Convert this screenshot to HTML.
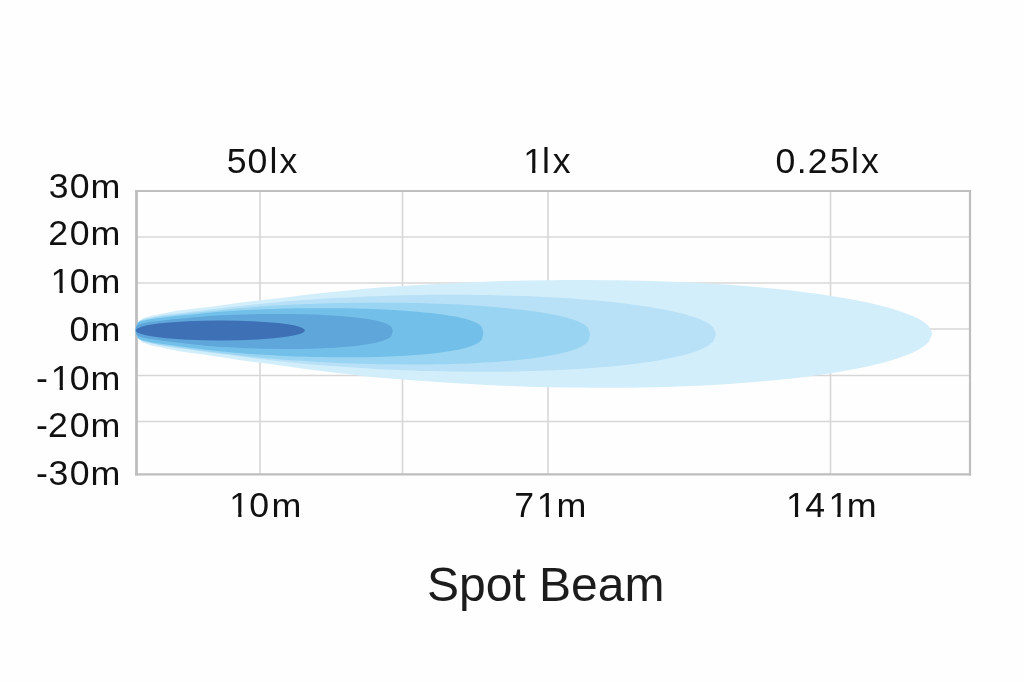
<!DOCTYPE html>
<html><head><meta charset="utf-8"><title>Spot Beam</title>
<style>
html,body{margin:0;padding:0;background:#fff;}
body{width:1024px;height:682px;overflow:hidden;}
svg{display:block;will-change:transform;}
text{font-family:"Liberation Sans",Arial,Helvetica,sans-serif;fill:#111;}
</style></head><body>
<svg width="1024" height="682" viewBox="0 0 1024 682">
<defs><clipPath id="c0"><path clip-rule="evenodd" d="M0,0H1024V682H0Z M51.65,289.15h7.87v6.05h-7.87Z M62.79,289.15h7.66v6.05h-7.66Z"/></clipPath><clipPath id="c1"><path clip-rule="evenodd" d="M0,0H1024V682H0Z M51.75,385.45h7.87v6.05h-7.87Z M62.89,385.45h7.66v6.05h-7.66Z"/></clipPath><clipPath id="c2"><path clip-rule="evenodd" d="M0,0H1024V682H0Z M524.25,168.75h7.87v6.05h-7.87Z M535.39,168.75h7.66v6.05h-7.66Z"/></clipPath><clipPath id="c3"><path clip-rule="evenodd" d="M0,0H1024V682H0Z M230.35,512.55h7.87v6.05h-7.87Z M241.49,512.55h7.66v6.05h-7.66Z"/></clipPath><clipPath id="c4"><path clip-rule="evenodd" d="M0,0H1024V682H0Z M537.85,512.55h7.87v6.05h-7.87Z M548.99,512.55h7.66v6.05h-7.66Z"/></clipPath><clipPath id="c5"><path clip-rule="evenodd" d="M0,0H1024V682H0Z M787.05,512.55h7.87v6.05h-7.87Z M798.19,512.55h7.66v6.05h-7.66Z M829.45,512.55h7.87v6.05h-7.87Z M840.59,512.55h7.66v6.05h-7.66Z"/></clipPath><filter id="soft" x="-5%" y="-20%" width="110%" height="140%"><feGaussianBlur stdDeviation="0.7"/></filter></defs>
<rect width="1024" height="682" fill="#fefefe"/>
<g stroke="#d7d7d7" stroke-width="1.6">
<line x1="136" y1="237" x2="970" y2="237"/>
<line x1="136" y1="283" x2="970" y2="283"/>
<line x1="136" y1="329" x2="970" y2="329"/>
<line x1="136" y1="375.5" x2="970" y2="375.5"/>
<line x1="136" y1="421.5" x2="970" y2="421.5"/>
<line x1="260" y1="191" x2="260" y2="474"/>
<line x1="402.5" y1="191" x2="402.5" y2="474"/>
<line x1="548" y1="191" x2="548" y2="474"/>
<line x1="830.5" y1="191" x2="830.5" y2="474"/>
</g>
<g stroke="#bebebe">
<line x1="136.5" y1="189.9" x2="136.5" y2="475.5" stroke-width="2.8"/>
<line x1="135.1" y1="191" x2="971.1" y2="191" stroke-width="2.2"/>
<line x1="970" y1="189.9" x2="970" y2="475.5" stroke-width="2.2"/>
<line x1="135.1" y1="474.4" x2="971.1" y2="474.4" stroke-width="2.3"/>
</g>
<g filter="url(#soft)">
<polygon points="135.50,330.00 137.49,324.73 139.48,320.87 141.48,319.28 143.47,318.17 145.46,317.34 147.45,316.69 149.45,316.15 151.44,315.65 164.00,313.33 176.56,310.85 189.12,309.20 201.68,307.81 214.24,306.17 226.81,304.46 239.37,302.81 251.93,301.31 264.49,299.87 277.05,298.42 289.61,296.88 302.17,295.28 314.73,293.82 327.30,292.50 339.86,291.21 352.42,289.96 364.98,288.79 377.54,287.72 390.10,286.76 402.66,285.95 415.23,285.23 427.79,284.53 440.35,283.84 452.91,283.18 465.47,282.56 478.03,281.99 490.59,281.48 503.15,281.04 515.72,280.68 528.28,280.41 540.84,280.23 553.40,280.16 565.96,280.11 578.52,280.08 591.08,280.09 603.64,280.14 616.21,280.25 628.77,280.45 641.33,280.71 653.89,281.06 666.45,281.48 679.01,281.98 691.57,282.56 704.14,283.23 716.70,283.98 729.26,284.83 741.82,285.77 754.38,286.81 766.94,287.95 779.50,289.22 792.06,290.60 804.63,292.13 817.19,293.81 829.75,295.65 842.31,297.70 854.87,299.98 867.43,302.54 879.99,305.47 892.55,308.87 896.18,309.97 899.80,311.14 903.42,312.38 907.04,313.72 910.67,315.16 914.29,316.75 917.91,318.51 921.53,320.53 925.16,322.95 928.78,326.11 932.40,333.80 932.40,333.80 928.78,341.95 925.16,345.29 921.53,347.83 917.91,349.94 914.29,351.79 910.67,353.44 907.04,354.94 903.42,356.33 899.80,357.62 896.18,358.82 892.55,359.96 879.99,363.47 867.43,366.45 854.87,369.06 842.31,371.37 829.75,373.42 817.19,375.27 804.63,376.93 792.06,378.43 779.50,379.79 766.94,381.01 754.38,382.11 741.82,383.09 729.26,383.97 716.70,384.74 704.14,385.42 691.57,386.01 679.01,386.50 666.45,386.91 653.89,387.24 641.33,387.48 628.77,387.65 616.21,387.73 603.64,387.73 591.08,387.66 578.52,387.54 565.96,387.39 553.40,387.21 540.84,387.01 528.28,386.70 515.72,386.28 503.15,385.77 490.59,385.18 478.03,384.51 465.47,383.78 452.91,383.00 440.35,382.18 427.79,381.32 415.23,380.44 402.66,379.55 390.10,378.57 377.54,377.43 364.98,376.16 352.42,374.79 339.86,373.34 327.30,371.84 314.73,370.30 302.17,368.62 289.61,366.80 277.05,365.03 264.49,363.37 251.93,361.71 239.37,359.99 226.81,358.11 214.24,356.16 201.68,354.29 189.12,352.69 176.56,350.81 164.00,348.04 151.44,345.44 149.45,344.89 147.45,344.29 145.46,343.59 143.47,342.68 141.48,341.48 139.48,339.77 137.49,335.63 135.50,330.00" fill="#d3eefb"/>
<polygon points="135.50,330.00 136.95,325.22 138.40,322.16 139.85,320.95 141.31,320.11 142.76,319.49 144.21,319.01 145.66,318.61 147.11,318.25 156.26,316.57 165.41,314.80 174.56,313.65 183.71,312.69 192.86,311.57 202.01,310.39 211.16,309.28 220.31,308.27 229.46,307.31 238.61,306.34 247.76,305.32 256.91,304.27 266.06,303.31 275.21,302.45 284.36,301.62 293.51,300.82 302.66,300.07 311.81,299.38 320.96,298.78 330.12,298.27 339.27,297.83 348.42,297.39 357.57,296.97 366.72,296.57 375.87,296.19 385.02,295.85 394.17,295.55 403.32,295.29 412.47,295.08 421.62,294.93 430.77,294.85 439.92,294.83 449.07,294.82 458.22,294.83 467.37,294.87 476.52,294.93 485.67,295.03 494.82,295.19 503.97,295.39 513.12,295.64 522.27,295.95 531.42,296.30 540.57,296.71 549.72,297.17 558.87,297.69 568.02,298.28 577.17,298.92 586.32,299.63 595.47,300.41 604.62,301.28 613.77,302.22 622.92,303.26 632.07,304.41 641.22,305.67 650.37,307.08 659.52,308.65 668.67,310.42 677.82,312.46 686.98,314.85 689.61,315.63 692.25,316.46 694.89,317.35 697.53,318.31 700.17,319.35 702.81,320.50 705.45,321.80 708.08,323.30 710.72,325.12 713.36,327.57 716.00,334.30 716.00,334.30 713.36,341.27 710.72,343.79 708.08,345.65 705.45,347.17 702.81,348.48 700.17,349.64 697.53,350.69 694.89,351.65 692.25,352.54 689.61,353.36 686.98,354.14 677.82,356.49 668.67,358.48 659.52,360.19 650.37,361.69 641.22,363.01 632.07,364.19 622.92,365.25 613.77,366.20 604.62,367.04 595.47,367.80 586.32,368.48 577.17,369.09 568.02,369.62 558.87,370.09 549.72,370.49 540.57,370.83 531.42,371.12 522.27,371.35 513.12,371.53 503.97,371.66 494.82,371.73 485.67,371.75 476.52,371.72 467.37,371.65 458.22,371.55 449.07,371.42 439.92,371.28 430.77,371.12 421.62,370.89 412.47,370.60 403.32,370.24 394.17,369.83 385.02,369.38 375.87,368.88 366.72,368.35 357.57,367.79 348.42,367.22 339.27,366.62 330.12,366.02 320.96,365.35 311.81,364.59 302.66,363.74 293.51,362.82 284.36,361.84 275.21,360.83 266.06,359.80 256.91,358.66 247.76,357.43 238.61,356.22 229.46,355.08 220.31,353.94 211.16,352.75 202.01,351.45 192.86,350.09 183.71,348.77 174.56,347.63 165.41,346.29 156.26,344.31 147.11,342.43 145.66,342.03 144.21,341.59 142.76,341.07 141.31,340.40 139.85,339.50 138.40,338.21 136.95,335.01 135.50,330.00" fill="#b8e1f7"/>
<polygon points="135.50,330.00 136.64,325.24 137.77,322.61 138.91,321.60 140.05,320.92 141.18,320.42 142.32,320.03 143.46,319.71 144.59,319.42 151.76,318.11 158.93,316.74 166.10,315.87 173.26,315.15 180.43,314.31 187.60,313.44 194.77,312.62 201.93,311.88 209.10,311.19 216.27,310.49 223.43,309.76 230.60,309.01 237.77,308.33 244.94,307.73 252.10,307.14 259.27,306.59 266.44,306.07 273.61,305.60 280.77,305.19 287.94,304.85 295.11,304.56 302.27,304.27 309.44,303.99 316.61,303.73 323.78,303.49 330.94,303.27 338.11,303.07 345.28,302.91 352.45,302.79 359.61,302.71 366.78,302.67 373.95,302.68 381.12,302.70 388.28,302.73 395.45,302.78 402.62,302.84 409.78,302.94 416.95,303.07 424.12,303.24 431.29,303.44 438.45,303.68 445.62,303.95 452.79,304.26 459.96,304.62 467.12,305.01 474.29,305.44 481.46,305.92 488.62,306.45 495.79,307.03 502.96,307.67 510.13,308.38 517.29,309.15 524.46,310.00 531.63,310.94 538.80,311.98 545.96,313.16 553.13,314.49 560.30,316.03 567.47,317.85 569.53,318.45 571.60,319.09 573.67,319.78 575.73,320.52 577.80,321.34 579.87,322.25 581.93,323.29 584.00,324.49 586.07,325.98 588.13,328.04 590.20,334.50 590.20,334.50 588.13,341.35 586.07,343.50 584.00,345.05 581.93,346.30 579.87,347.36 577.80,348.29 575.73,349.12 573.67,349.87 571.60,350.56 569.53,351.20 567.47,351.80 560.30,353.60 553.13,355.10 545.96,356.37 538.80,357.48 531.63,358.45 524.46,359.30 517.29,360.06 510.13,360.74 502.96,361.34 495.79,361.88 488.62,362.35 481.46,362.77 474.29,363.14 467.12,363.45 459.96,363.73 452.79,363.95 445.62,364.14 438.45,364.28 431.29,364.39 424.12,364.46 416.95,364.49 409.78,364.48 402.62,364.44 395.45,364.37 388.28,364.27 381.12,364.16 373.95,364.03 366.78,363.89 359.61,363.71 352.45,363.47 345.28,363.20 338.11,362.88 330.94,362.53 323.78,362.15 316.61,361.74 309.44,361.31 302.27,360.87 295.11,360.41 287.94,359.95 280.77,359.44 273.61,358.86 266.44,358.21 259.27,357.52 252.10,356.77 244.94,356.00 237.77,355.21 230.60,354.34 223.43,353.39 216.27,352.47 209.10,351.58 201.93,350.69 194.77,349.76 187.60,348.74 180.43,347.67 173.26,346.62 166.10,345.71 158.93,344.63 151.76,343.02 144.59,341.47 143.46,341.14 142.32,340.78 141.18,340.34 140.05,339.78 138.91,339.03 137.77,337.93 136.64,335.11 135.50,330.00" fill="#99d5f2"/>
<polygon points="135.50,330.00 136.37,325.49 137.24,323.30 138.11,322.48 138.98,321.93 139.85,321.53 140.72,321.22 141.59,320.97 142.46,320.74 147.95,319.70 153.43,318.64 158.92,317.96 164.40,317.41 169.89,316.77 175.37,316.11 180.86,315.49 186.34,314.93 191.83,314.41 197.31,313.89 202.80,313.35 208.29,312.80 213.77,312.30 219.26,311.85 224.74,311.42 230.23,311.01 235.71,310.64 241.20,310.29 246.68,310.00 252.17,309.75 257.65,309.53 263.14,309.32 268.62,309.12 274.11,308.93 279.60,308.75 285.08,308.59 290.57,308.45 296.05,308.34 301.54,308.25 307.02,308.19 312.51,308.16 317.99,308.16 323.48,308.17 328.96,308.19 334.45,308.22 339.94,308.26 345.42,308.33 350.91,308.42 356.39,308.54 361.88,308.68 367.36,308.84 372.85,309.03 378.33,309.25 383.82,309.50 389.30,309.77 394.79,310.08 400.27,310.42 405.76,310.80 411.25,311.21 416.73,311.67 422.22,312.17 427.70,312.72 433.19,313.33 438.67,314.01 444.16,314.77 449.64,315.63 455.13,316.61 460.61,317.74 466.10,319.10 467.68,319.55 469.26,320.04 470.85,320.56 472.43,321.13 474.01,321.75 475.59,322.46 477.17,323.26 478.75,324.21 480.34,325.39 481.92,327.07 483.50,333.00 483.50,333.00 481.92,339.41 480.34,341.20 478.75,342.46 477.17,343.46 475.59,344.30 474.01,345.03 472.43,345.68 470.85,346.27 469.26,346.81 467.68,347.31 466.10,347.77 460.61,349.14 455.13,350.28 449.64,351.24 444.16,352.07 438.67,352.80 433.19,353.44 427.70,354.00 422.22,354.50 416.73,354.95 411.25,355.35 405.76,355.70 400.27,356.00 394.79,356.28 389.30,356.51 383.82,356.71 378.33,356.88 372.85,357.02 367.36,357.13 361.88,357.21 356.39,357.26 350.91,357.29 345.42,357.29 339.94,357.26 334.45,357.21 328.96,357.14 323.48,357.07 317.99,356.98 312.51,356.89 307.02,356.75 301.54,356.59 296.05,356.39 290.57,356.17 285.08,355.92 279.60,355.64 274.11,355.35 268.62,355.05 263.14,354.73 257.65,354.40 252.17,354.07 246.68,353.70 241.20,353.28 235.71,352.81 230.23,352.30 224.74,351.76 219.26,351.20 213.77,350.62 208.29,349.98 202.80,349.28 197.31,348.59 191.83,347.93 186.34,347.27 180.86,346.56 175.37,345.79 169.89,344.98 164.40,344.18 158.92,343.48 153.43,342.65 147.95,341.40 142.46,340.18 141.59,339.91 140.72,339.62 139.85,339.27 138.98,338.82 138.11,338.21 137.24,337.30 136.37,334.91 135.50,330.00" fill="#72c0e9"/>
<polygon points="135.50,330.00 136.14,327.00 136.79,325.48 137.43,324.90 138.07,324.51 138.72,324.22 139.36,324.00 140.00,323.81 140.65,323.65 144.70,322.89 148.76,322.12 152.81,321.62 156.87,321.20 160.92,320.72 164.98,320.23 169.04,319.76 173.09,319.34 177.15,318.95 181.20,318.56 185.26,318.15 189.31,317.72 193.37,317.34 197.43,317.00 201.48,316.67 205.54,316.35 209.59,316.06 213.65,315.79 217.71,315.56 221.76,315.36 225.82,315.19 229.87,315.01 233.93,314.85 237.98,314.69 242.04,314.55 246.10,314.41 250.15,314.29 254.21,314.19 258.26,314.11 262.32,314.04 266.37,314.01 270.43,313.99 274.49,313.99 278.54,313.98 282.60,313.99 286.65,314.01 290.71,314.04 294.76,314.09 298.82,314.16 302.88,314.25 306.93,314.35 310.99,314.48 315.04,314.62 319.10,314.79 323.15,314.98 327.21,315.19 331.27,315.42 335.32,315.69 339.38,315.97 343.43,316.29 347.49,316.65 351.54,317.04 355.60,317.47 359.66,317.95 363.71,318.50 367.77,319.11 371.82,319.80 375.88,320.62 379.94,321.59 381.10,321.91 382.27,322.25 383.44,322.62 384.61,323.03 385.78,323.48 386.95,323.97 388.12,324.54 389.29,325.21 390.46,326.05 391.63,327.22 392.80,331.20 392.80,331.20 391.63,335.54 390.46,336.82 389.29,337.72 388.12,338.45 386.95,339.06 385.78,339.60 384.61,340.07 383.44,340.51 382.27,340.90 381.10,341.27 379.94,341.61 375.88,342.63 371.82,343.48 367.77,344.21 363.71,344.84 359.66,345.39 355.60,345.88 351.54,346.32 347.49,346.70 343.43,347.05 339.38,347.36 335.32,347.64 331.27,347.89 327.21,348.10 323.15,348.30 319.10,348.46 315.04,348.60 310.99,348.72 306.93,348.82 302.88,348.90 298.82,348.96 294.76,348.99 290.71,349.01 286.65,349.00 282.60,348.98 278.54,348.95 274.49,348.91 270.43,348.86 266.37,348.81 262.32,348.72 258.26,348.62 254.21,348.49 250.15,348.33 246.10,348.16 242.04,347.98 237.98,347.78 233.93,347.56 229.87,347.34 225.82,347.12 221.76,346.89 217.71,346.63 213.65,346.33 209.59,346.00 205.54,345.64 201.48,345.25 197.43,344.85 193.37,344.44 189.31,343.98 185.26,343.48 181.20,342.98 177.15,342.52 173.09,342.04 169.04,341.55 164.98,341.00 160.92,340.42 156.87,339.85 152.81,339.36 148.76,338.77 144.70,337.88 140.65,337.01 140.00,336.82 139.36,336.61 138.72,336.37 138.07,336.05 137.43,335.61 136.79,334.97 136.14,333.29 135.50,330.00" fill="#5ea6da"/>
<ellipse cx="220.35" cy="330.4" rx="84.45" ry="10.0" fill="#3d6fb5"/>
</g>
<text transform="translate(0,198.0) scale(1.03,1)" x="47.32 67.77" font-size="34.6">30</text>
<text transform="translate(0,198.0) scale(1.11,1)" x="81.46" font-size="32.3">m</text>
<text transform="translate(0,245.1) scale(1.03,1)" x="46.90 67.77" font-size="34.6">20</text>
<text transform="translate(0,245.1) scale(1.11,1)" x="81.46" font-size="32.3">m</text>
<g clip-path="url(#c0)"><text transform="translate(0,293.2) scale(1.03,1)" x="49.13 67.77" font-size="34.6">10</text></g>
<text transform="translate(0,293.2) scale(1.11,1)" x="81.46" font-size="32.3">m</text>
<text transform="translate(0,341.2) scale(1.03,1)" x="67.58" font-size="34.6">0</text>
<text transform="translate(0,341.2) scale(1.11,1)" x="81.46" font-size="32.3">m</text>
<g clip-path="url(#c1)"><text transform="translate(0,389.5) scale(1.03,1)" x="34.87 49.23 67.77" font-size="34.6">-10</text></g>
<text transform="translate(0,389.5) scale(1.11,1)" x="81.46" font-size="32.3">m</text>
<text transform="translate(0,437.2) scale(1.03,1)" x="34.87 46.71 67.77" font-size="34.6">-20</text>
<text transform="translate(0,437.2) scale(1.11,1)" x="81.46" font-size="32.3">m</text>
<text transform="translate(0,485.2) scale(1.03,1)" x="34.87 47.13 67.77" font-size="34.6">-30</text>
<text transform="translate(0,485.2) scale(1.11,1)" x="81.46" font-size="32.3">m</text>
<text transform="translate(0,172.8) scale(1.03,1)" x="220.22 240.40 261.75 271.26" font-size="34.6">50lx</text>
<g clip-path="url(#c2)"><text transform="translate(0,172.8) scale(1.03,1)" x="507.97 526.21 536.60" font-size="34.6">1lx</text></g>
<text transform="translate(0,172.8) scale(1.03,1)" x="752.92 773.64 784.18 805.60 826.31 835.83" font-size="34.6">0.25lx</text>
<g clip-path="url(#c3)"><text transform="translate(0,516.6) scale(1.03,1)" x="222.63 241.95" font-size="34.6">10</text></g>
<text transform="translate(0,516.6) scale(1.11,1)" x="244.70" font-size="32.3">m</text>
<g clip-path="url(#c4)"><text transform="translate(0,516.6) scale(1.03,1)" x="499.20 521.17" font-size="34.6">71</text></g>
<text transform="translate(0,516.6) scale(1.11,1)" x="501.46" font-size="32.3">m</text>
<g clip-path="url(#c5)"><text transform="translate(0,516.6) scale(1.03,1)" x="763.11 781.83 804.28" font-size="34.6">141</text></g>
<text transform="translate(0,516.6) scale(1.11,1)" x="762.81" font-size="32.3">m</text>
<text transform="translate(426.92,601) scale(1.0,1)" font-size="48" style="fill:#1c1c1c">Spot Beam</text>
</svg>
</body></html>
